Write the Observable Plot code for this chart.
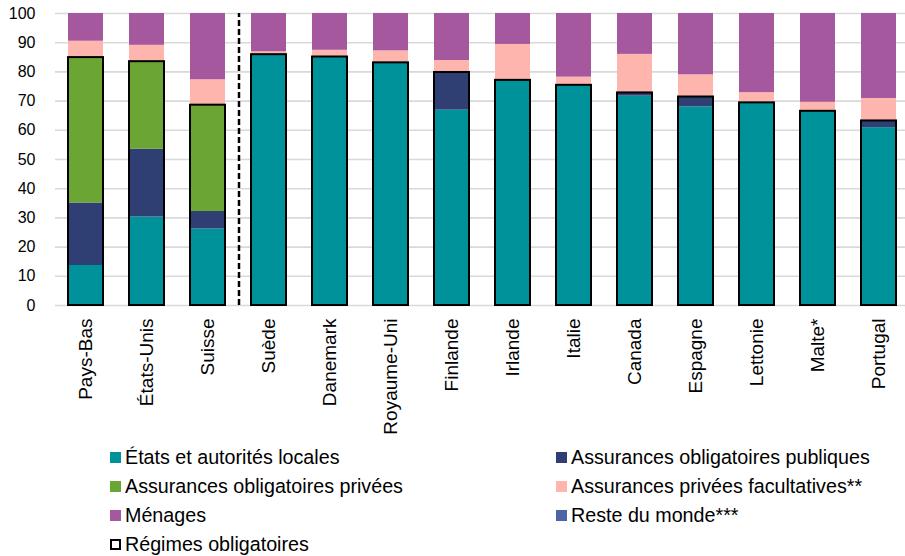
<!DOCTYPE html>
<html><head><meta charset="utf-8">
<script src="https://cdn.jsdelivr.net/npm/d3@7"></script>
<script src="https://cdn.jsdelivr.net/npm/@observablehq/plot@0.6"></script>
<style>
body{margin:0;background:#fff;font-family:"Liberation Sans",Arial,sans-serif;}
#wrap{position:relative;width:905px;height:556px;overflow:hidden;}
#chart svg{display:block;}
.leg{position:absolute;height:29px;display:flex;align-items:center;font-size:19.7px;color:#000;white-space:nowrap;}
.sw{display:inline-block;width:11px;height:11px;margin-right:4px;box-sizing:border-box;}
</style>
</head><body>
<div id="wrap"><div id="chart"></div><div id="legend"></div></div>
<script>
const countries = ["Pays-Bas","États-Unis","Suisse","Suède","Danemark","Royaume-Uni","Finlande","Irlande","Italie","Canada","Espagne","Lettonie","Malte*","Portugal"];
const etats   = [13.7,30.3,26.2,85.9,85.1,83.1,66.9,77.1,75.4,71.7,68.0,69.4,66.5,60.9];
const pub     = [21.4,23.2, 6.0, 0,   0,   0,  12.9, 0,   0,   1.1, 3.4, 0,   0,   2.3];
const priv    = [49.8,30.0,36.4, 0,   0,   0,   0,   0,   0,   0,   0,   0,   0,   0];
const reste   = [ 0,   0,   0,   0,   0,   0,   0,   0,   0,   0,   0,   0,   0,   0];
const apf     = [ 5.6, 5.6, 8.7, 1.0, 2.3, 4.1, 4.1,12.3, 2.8,13.2, 7.6, 3.5, 3.1, 7.7];
const menages = [ 9.5,10.9,22.7,13.1,12.6,12.8,16.1,10.6,21.8,14.0,21.0,27.1,30.4,29.1];
const seriesNames = ["États et autorités locales","Assurances obligatoires publiques","Assurances obligatoires privées","Reste du monde***","Assurances privées facultatives**","Ménages"];
const seriesColors = ["#00929a","#2f3e73","#6ba533","#4d64a6","#fdb5ad","#a6589f"];
const yTicks = [0,10,20,30,40,50,60,70,80,90,100];
const outlineLabel = "Régimes obligatoires";

const seriesValues = [etats, pub, priv, reste, apf, menages];
const rows = [];
countries.forEach((c, i) => {
  seriesValues.forEach((vals, s) => rows.push({country: c, series: seriesNames[s], value: vals[i]}));
});
const compulsory = countries.map((c, i) => ({country: c, total: etats[i] + pub[i] + priv[i]}));

const W = 905, H = 445;
const xRange = [55, 909];
const step = (xRange[1] - xRange[0]) / countries.length;

const chart = Plot.plot({
  width: W, height: H,
  marginLeft: 55, marginRight: 0, marginTop: 13, marginBottom: 140,
  style: {fontFamily: '"Liberation Sans", Arial, sans-serif', color: "#000", background: "#fff"},
  x: {domain: countries, range: xRange, paddingInner: 0.43, paddingOuter: 0.215, label: null},
  y: {domain: [0, 100], label: null},
  color: {domain: seriesNames, range: seriesColors},
  marks: [
    Plot.ruleY(yTicks, {stroke: "#d9d9d9", strokeWidth: 1.6}),
    Plot.barY(rows, {x: "country", y: "value", fill: "series", order: seriesNames}),
    Plot.barY(compulsory, {x: "country", y1: 0, y2: "total", fill: "none", stroke: "#000", strokeWidth: 2}),
    Plot.ruleX(["Suède"], {x: d => d, dx: -step / 2 + 0.5, y1: 0, y2: 100, stroke: "#000", strokeWidth: 2.5, strokeDasharray: "6,3"}),
    Plot.axisY({ticks: yTicks, tickSize: 0, tickPadding: 20, fontSize: 16, label: null}),
    Plot.axisX({tickRotate: -90, tickSize: 0, tickPadding: 13, fontSize: 19, label: null})
  ]
});
document.getElementById("chart").appendChild(chart);

const legendItems = [
  {label: seriesNames[0], color: seriesColors[0], left: 110, row: 0},
  {label: seriesNames[1], color: seriesColors[1], left: 556, row: 0},
  {label: seriesNames[2], color: seriesColors[2], left: 110, row: 1},
  {label: seriesNames[4], color: seriesColors[4], left: 556, row: 1},
  {label: seriesNames[5], color: seriesColors[5], left: 110, row: 2},
  {label: seriesNames[3], color: seriesColors[3], left: 556, row: 2},
  {label: outlineLabel, color: null, left: 110, row: 3}
];
const leg = document.getElementById("legend");
legendItems.forEach(it => {
  const d = document.createElement("div");
  d.className = "leg";
  d.style.left = it.left + "px";
  d.style.top = (443 + it.row * 29) + "px";
  const sw = document.createElement("span");
  sw.className = "sw";
  if (it.color) sw.style.background = it.color;
  else { sw.style.background = "#fff"; sw.style.border = "2px solid #000"; }
  d.appendChild(sw);
  d.appendChild(document.createTextNode(it.label));
  leg.appendChild(d);
});
</script>
</body></html>
